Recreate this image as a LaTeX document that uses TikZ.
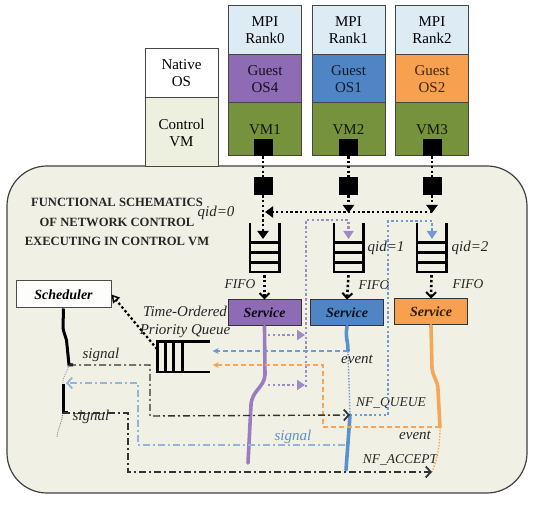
\documentclass[tikz,border=0pt]{standalone}
\usepackage{fontspec}
\setmainfont{Liberation Serif}
\usetikzlibrary{arrows.meta,calc}
\definecolor{mpifill}{HTML}{DDEBF5}
\definecolor{purp}{HTML}{8E6CB5}
\definecolor{blu}{HTML}{4F85C5}
\definecolor{orng}{HTML}{F6A050}
\definecolor{grn}{HTML}{76923C}
\definecolor{ctrlfill}{HTML}{EDF0DE}
\definecolor{bgfill}{HTML}{F0F1E4}
\definecolor{boxline}{HTML}{454545}
\definecolor{purpline}{HTML}{9A7CC2}
\definecolor{bluline}{HTML}{5A8FD0}
\definecolor{orline}{HTML}{F5A658}
\definecolor{purpdot}{HTML}{9F8AC8}
\definecolor{bludot}{HTML}{7199D2}
\definecolor{bludash}{HTML}{93B4DC}
\begin{document}
\begin{tikzpicture}[x=1pt,y=-1pt,
  box/.style={draw=boxline, line width=1pt, minimum width=73pt, inner sep=0pt, align=center, font=\fontsize{15}{17}\selectfont},
  sq/.style={fill=black, minimum width=19pt, minimum height=17pt, inner sep=0pt},
  qbox/.style={minimum width=29pt, minimum height=49pt, inner sep=0pt},
  qline/.style={line width=2.6pt, black},
  svc/.style={draw=black!80, line width=1pt, minimum width=73pt, minimum height=26pt, inner sep=0pt, font=\fontsize{14}{16}\selectfont\bfseries\itshape},
  lbl/.style={font=\fontsize{15}{17}\selectfont\itshape, inner sep=0pt, text=black!85},
  slbl/.style={font=\fontsize{13.5}{16}\selectfont\itshape, inner sep=0pt, text=black!85},
  bdot/.style={line width=2.6pt, dash pattern=on 2.4pt off 2.4pt, black},
  tri/.style={-{Triangle[length=8pt,width=11pt]}},
  fifoarr/.style={-{Straight Barb[length=5pt,width=10pt,line width=2pt]}},
  pdot/.style={line width=2.6pt, dash pattern=on 2.4pt off 2.4pt, purpdot},
  bldot/.style={line width=2.6pt, dash pattern=on 2.4pt off 2.4pt, bludot},
  thickline/.style={line width=3.6pt, line cap=round},
  sigline/.style={line width=1.4pt, black!80, dash pattern=on 7pt off 3pt on 2pt off 3pt},
  barb/.style={-{Straight Barb[length=5pt,width=11pt,line width=1.8pt]}},
  smallarr/.style={-{Stealth[length=6pt,width=6pt]}}
]
\useasboundingbox (0,0) rectangle (542,510);

% big rounded panel
\node[draw=black!75, line width=1.2pt, fill=bgfill, rounded corners=40pt, minimum width=520pt, minimum height=327pt, inner sep=0pt] (panel) at (267,329.5) {};

% native OS / control VM
\node[box, fill=white, minimum height=49pt] (nos) at (181.5,73.5) {Native\\OS};
\node[box, fill=ctrlfill, minimum height=69pt] (cvm) at (181.5,132.5) {Control\\VM};

% columns
\node[box, fill=mpifill, minimum height=49pt] (m1) at (265,30.5) {MPI\\Rank0};
\node[box, fill=mpifill, minimum height=49pt] (m2) at (348.5,30.5) {MPI\\Rank1};
\node[box, fill=mpifill, minimum height=49pt] (m3) at (432,30.5) {MPI\\Rank2};
\node[box, fill=purp, minimum height=48pt, text=black!85!purp] (g1) at (265,79) {Guest\\OS4};
\node[box, fill=blu, minimum height=48pt, text=black!80!blu] (g2) at (348.5,79) {Guest\\OS1};
\node[box, fill=orng, minimum height=48pt, text=black!75!orng] (g3) at (432,79) {Guest\\OS2};
\node[box, fill=grn, minimum height=53pt, text=black!85!grn] (v1) at (265,129.5) {VM1};
\node[box, fill=grn, minimum height=53pt, text=black!85!grn] (v2) at (348.5,129.5) {VM2};
\node[box, fill=grn, minimum height=53pt, text=black!85!grn] (v3) at (432,129.5) {VM3};

% ports
\node[sq] (t1) at (263,147.5) {};
\node[sq] (t2) at (348.5,147.5) {};
\node[sq] (t3) at (432,147.5) {};
\node[sq, minimum height=18pt] (b1) at (263,186) {};
\node[sq, minimum height=18pt] (b2) at (348.5,186) {};
\node[sq, minimum height=18pt] (b3) at (432,186) {};

% title
\node[font=\fontsize{12.6}{19.5}\selectfont\bfseries, align=center, text=black!85] (title) at (117,222) {FUNCTIONAL SCHEMATICS\\OF NETWORK CONTROL\\EXECUTING IN CONTROL VM};

% queues
\node[qbox] (q1) at (264.5,247.5) {};
\node[qbox] (q2) at (348.5,247.5) {};
\node[qbox] (q3) at (431.5,247.5) {};
\foreach \q in {q1,q2,q3}{
  \draw[qline] (\q.north west) -- (\q.south west) -- (\q.south east) -- (\q.north east);
  \foreach \f in {0.2,0.4,0.6}
    \draw[qline] ($(\q.south west)!\f!(\q.north west)$) -- ($(\q.south east)!\f!(\q.north east)$);
}

% services
\node[svc, fill=purp, text=black!90!purp] (s1) at (264.5,313) {Service};
\node[svc, fill=blu, text=black!85!blu] (s2) at (347,313) {Service};
\node[svc, fill=orng, text=black!80!orng] (s3) at (431,312) {Service};

% scheduler & priority queue
\node[draw=black!70, line width=1pt, fill=white!85!bgfill, minimum width=95pt, minimum height=27pt, inner sep=0pt, font=\fontsize{14}{16}\selectfont\bfseries\itshape] (sched) at (63.5,294.5) {Scheduler};
\node[minimum width=52pt, minimum height=30pt, inner sep=0pt] (pq) at (183.5,357) {};
\draw[qline] (pq.north east) -- (pq.north west) -- (pq.south west) -- (pq.south east);
\foreach \f in {0.155,0.31,0.48}
  \draw[qline] ($(pq.north west)!\f!(pq.north east)$) -- ($(pq.south west)!\f!(pq.south east)$);
\node[lbl, align=center, font=\fontsize{15}{18}\selectfont\itshape] (pqlbl) at (185,322) {Time-Ordered\\Priority Queue};

% labels
\node[lbl] (qid0) at (216,213) {qid=0};
\node[lbl] (qid1) at (386,248) {qid=1};
\node[lbl] (qid2) at (470,248) {qid=2};
\node[slbl] (fifo1) at (240,284) {FIFO};
\node[slbl] (fifo2) at (374,285) {FIFO};
\node[slbl] (fifo3) at (468,284) {FIFO};
\node[lbl] (ev1) at (357,359) {event};
\node[lbl] (ev2) at (415,435) {event};
\node[slbl] (nfq) at (391,403) {NF\_QUEUE};
\node[slbl] (nfa) at (400,460) {NF\_ACCEPT};
\node[lbl, text=bluline] (sigb) at (293,437) {signal};
\node[lbl] (sig1) at (101,355) {signal};
\node[lbl] (sig2) at (91,417) {signal};

% coordinates
\coordinate (a1) at (263,239);
\coordinate (h1) at (265,212);
\coordinate (h2) at (348.5,213);
\coordinate (h3) at (432,213);
\coordinate (pqs) at (157,349);
\coordinate (sc1) at (69,365);
\coordinate (sc2t) at (63,384);
\coordinate (sc2b) at (63,413);
\coordinate (nfqtip) at (350,415);
\coordinate (nfatip) at (432,472);
\coordinate (evb) at (348,351);
\coordinate (evo) at (440,427);
\coordinate (sigbs) at (345,445);

% VM to control dotted links
\foreach \i in {1,2,3} \draw[bdot] (t\i) -- (b\i);
\draw[bdot,tri] (b1.south) -- (a1);
\draw[bdot,tri] (b2.south) -- (h2);
\draw[bdot,tri] (b3.south) -- (h3);
\draw[bdot,tri] (432,212) -- (h1);
\foreach \i in {1,2,3} \draw[bdot,fifoarr] ($(q\i.south)+(0,3)$) -- (s\i.north);

% colored dotted feedback into queues
\draw[pdot,-{Triangle[length=8pt,width=10pt]}] (306,387) -- (306,220) -- (348.5,220) -- (348.5,239);
\draw[pdot,-{Triangle[length=8pt,width=10pt]}] (268,335) -- (305,335);
\draw[pdot,-{Triangle[length=8pt,width=10pt]}] (268,385) -- (305,385);
\draw[bldot,-{Triangle[length=8pt,width=10pt]}] (nfqtip) -- (388,415) -- (388,221) -- (432,221) -- (432,239);

% service lines
\draw[thickline, purpline] (s1.south) -- (265,375) .. controls (264,388) and (252,390) .. (251,405) -- (248,463);
\draw[thickline, bluline] (s2.south) .. controls (345,340) and (348,338) .. (evb);
\draw[line width=1.4pt, bludot, dash pattern=on 1.5pt off 1.5pt] (evb) -- (nfqtip);
\draw[thickline, bluline] (nfqtip) -- (346,470);
\draw[thickline, orline] (s3.south) -- (432,368) .. controls (433,378) and (438,380) .. (438,390) -- (evo);
\draw[line width=1.3pt, orline, dash pattern=on 1.5pt off 1.5pt] (evo) .. controls (440,450) and (436,462) .. (nfatip);

% events to priority queue
\draw[line width=1.4pt, bludot, dash pattern=on 5pt off 3pt, smallarr] (evb) -- ($(pq.east)+(3,-6)$);
\draw[line width=1.4pt, orline, dash pattern=on 5pt off 3pt, smallarr] (evo) -- (323,427) -- (323,365) -- ($(pq.east)+(3,8)$);

% priority queue to scheduler
\draw[bdot, line width=2.2pt, -{Triangle[open, length=8pt, width=9pt, line width=1.5pt]}] (pqs) -- (sched.east);

% scheduler timeline
\draw[line width=3pt, black] (sched.south) -- (63,328) .. controls (64,335) and (67,338) .. (67,345) -- (sc1) -- (73,365);
\draw[line width=3pt, black] (sc2t) -- (sc2b) -- (68,413);
\draw[line width=0.8pt, purpdot, dash pattern=on 1pt off 1pt] (sc1) .. controls (68,372) and (62,376) .. (sc2t);
\draw[line width=0.8pt, black!50, dash pattern=on 1pt off 1pt] (sc2b) .. controls (62,422) and (58,428) .. (57,437);

% signal paths
\draw[sigline, barb] (sc1) -- (150,365) -- (150,416) -- (nfqtip);
\draw[sigline, barb] (sc2b) -- (128,413) -- (128,472) -- (nfatip);
\draw[line width=1.4pt, bludash, dash pattern=on 7pt off 3pt on 2pt off 3pt, -{Straight Barb[length=5pt,width=11pt,line width=1.8pt]}] (sigbs) -- (138,445) -- (138,383) -- (66,383);
\end{tikzpicture}
\end{document}
